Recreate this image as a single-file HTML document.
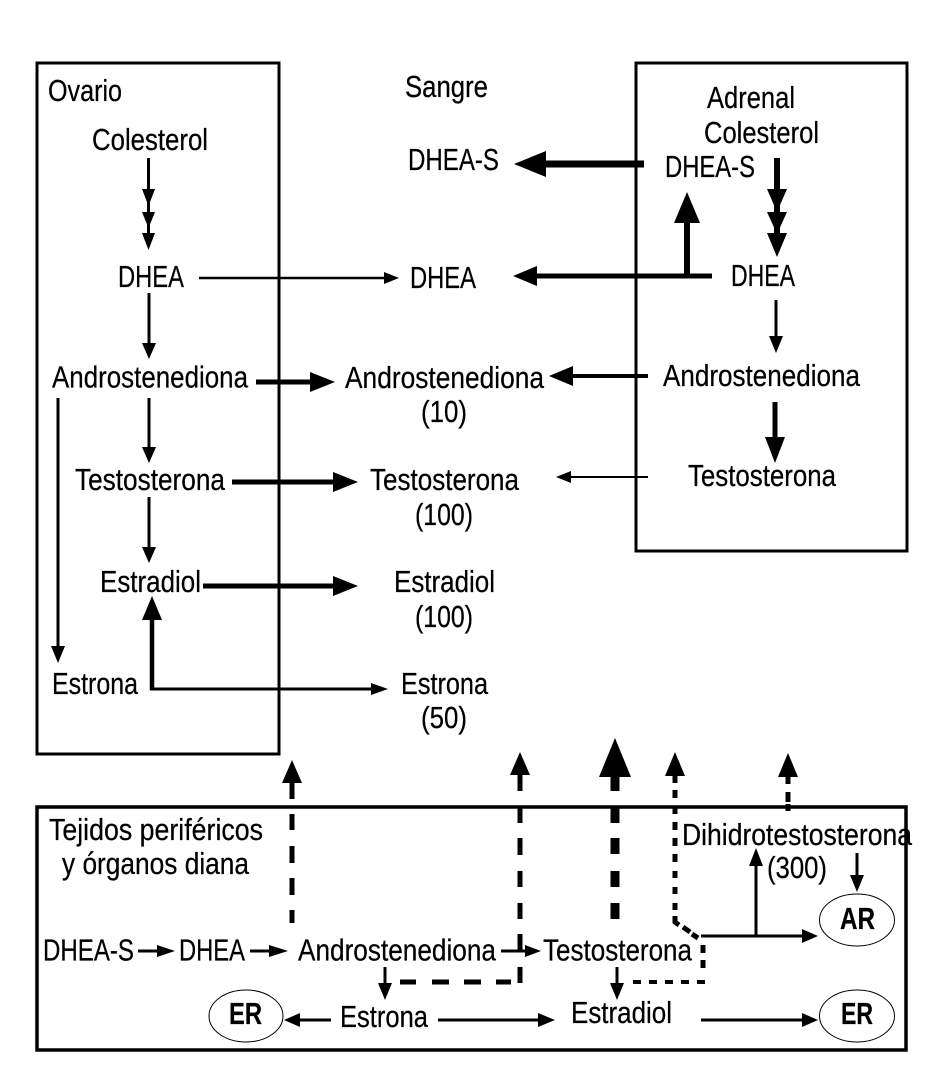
<!DOCTYPE html>
<html lang="es">
<head>
<meta charset="utf-8">
<title>Diagrama</title>
<style>
html,body{margin:0;padding:0;background:#fff}
svg{display:block}
text{font-family:"Liberation Sans",sans-serif;font-size:31px;fill:#000;stroke:#000;stroke-width:.25px}
.b{font-weight:bold}
</style>
</head>
<body>
<svg width="927" height="1083" viewBox="0 0 927 1083" xmlns="http://www.w3.org/2000/svg">
<rect width="927" height="1083" fill="#fff"/>
<g fill="none" stroke="#000" stroke-width="3">
<rect x="37" y="63" width="242" height="691"/>
<rect x="636" y="63" width="271" height="488"/>
<rect x="37" y="807" width="869" height="243" stroke-width="3.5"/>
</g>
<g fill="none" stroke="#000" stroke-width="1">
<ellipse cx="246" cy="1016" rx="37" ry="26"/>
<ellipse cx="857" cy="920" rx="37.5" ry="26"/>
<ellipse cx="857" cy="1016" rx="37.5" ry="26"/>
</g>

<g stroke="#000" fill="none">
<!-- left column -->
<path d="M148.5 158V240M149 293V350M149 398V452M149 497V552" stroke-width="3"/>
<path d="M199 278H388" stroke-width="2.6"/>
<path d="M58 398V650" stroke-width="3"/>
<path d="M256 382H314M232 482H337M203 586H337" stroke-width="5"/>
<path d="M152 690V616" stroke-width="4.5"/>
<path d="M150 689H376" stroke-width="3"/>
<!-- right column -->
<path d="M644 164H540" stroke-width="7"/>
<path d="M712 276H530" stroke-width="5"/>
<path d="M687 276V218" stroke-width="6"/>
<path d="M777 158V245" stroke-width="6"/>
<path d="M776 300V340" stroke-width="3"/>
<path d="M648 376H565" stroke-width="4"/>
<path d="M775 402V440" stroke-width="5"/>
<path d="M648 477H566" stroke-width="2"/>
<!-- long dashed -->
<path d="M292 783V799M292 814V830M292 846V863M292 878V895M292 910V923" stroke-width="5"/>
<path d="M520 775V791M520 808V823M520 838V855M520 871V887M520 903V919M520 934V950M520 967V983" stroke-width="5"/>
<path d="M400 982H416M432 982H449M464 982H481M496 982H511" stroke-width="5"/>
<path d="M615 775V791M615 807V823M615 838V854M615 871V887M615 903V919" stroke-width="9"/>
<path d="M675 776V783M675 790V798M675 807V814M675 822V830M675 838V846M675 854V862M675 871V878M675 887V894M675 903V910M675 916V922L679 925M683 927L690 932M692 934L698 938" stroke-width="5"/>
<path d="M703 945V953M703 960V968" stroke-width="5"/>
<path d="M633 982H641M649 982H657M665 982H673M681 982H689M697 982H705" stroke-width="4"/>
<path d="M788 775V784M788 792V802M788 804V811" stroke-width="5"/>
<!-- bottom solids -->
<path d="M138 951H162M250 951H276" stroke-width="3"/>
<path d="M501 951H530" stroke-width="3"/>
<path d="M385 967V988M617 967V988" stroke-width="3"/>
<path d="M331 1020H295M438 1020H542M701 1020H806M701 936H806" stroke-width="3"/>
<path d="M756 936V862M857 853V880" stroke-width="3"/>
</g>

<g fill="#000" stroke="none">
<!-- left column heads -->
<path d="M142 189H155L148.5 206ZM142 212H155L148.5 228ZM142 233H155L148.5 250Z"/>
<path d="M384 272L399 278L384 284Z"/>
<path d="M142 343H156L149 359Z"/>
<path d="M142 447H156L149 463Z"/>
<path d="M142 547H156L149 563Z"/>
<path d="M51 646H65L58 663Z"/>
<path d="M310 372L335 382L310 392Z"/>
<path d="M333 472L358 482L333 492Z"/>
<path d="M333 576L358 586L333 596Z"/>
<path d="M142 620L152 596L162 620Z"/>
<path d="M371 683L388 689L371 695Z"/>
<!-- right column heads -->
<path d="M546 151L514 164L546 177Z"/>
<path d="M537 266L513 276L537 286Z"/>
<path d="M674 223L687 192L700 223Z"/>
<path d="M767 189H787L777 212ZM767 212H787L777 234ZM767 233H787L777 257Z"/>
<path d="M769 336H783L776 353Z"/>
<path d="M573 366L549 376L573 386Z"/>
<path d="M765 437H785L775 463Z"/>
<path d="M571 471L556 477L571 483Z"/>
<!-- dashed heads -->
<path d="M282 783L292 760L302 783Z"/>
<path d="M510 775L520 752L530 775Z"/>
<path d="M599 777L615 738L631 777Z"/>
<path d="M665 776L675 752L685 776Z"/>
<path d="M778 777L788 753L798 777Z"/>
<!-- bottom heads -->
<path d="M157 945L175 951L157 957Z"/>
<path d="M269 945L288 951L269 957Z"/>
<path d="M525 945L541 951L525 957Z"/>
<path d="M378 983H392L385 1000Z"/>
<path d="M610 983H624L617 1000Z"/>
<path d="M300 1013L284 1020L300 1027Z"/>
<path d="M538 1013L555 1020L538 1027Z"/>
<path d="M802 1013L818 1020L802 1027Z"/>
<path d="M802 929L818 936L802 943Z"/>
<path d="M749 866L756 848L763 866Z"/>
<path d="M850 875H864L857 892Z"/>
</g>

<g>
<text x="48" y="101" textLength="74" lengthAdjust="spacingAndGlyphs">Ovario</text>
<text x="405" y="97" textLength="83" lengthAdjust="spacingAndGlyphs">Sangre</text>
<text x="707" y="108" textLength="88" lengthAdjust="spacingAndGlyphs">Adrenal</text>
<text x="704" y="143" textLength="115" lengthAdjust="spacingAndGlyphs">Colesterol</text>
<text x="665" y="177" textLength="90" lengthAdjust="spacingAndGlyphs">DHEA-S</text>
<text x="731" y="286" textLength="64" lengthAdjust="spacingAndGlyphs">DHEA</text>
<text x="92" y="150" textLength="116" lengthAdjust="spacingAndGlyphs">Colesterol</text>
<text x="118" y="287" textLength="66" lengthAdjust="spacingAndGlyphs">DHEA</text>
<text x="408" y="170" textLength="91" lengthAdjust="spacingAndGlyphs">DHEA-S</text>
<text x="410" y="288" textLength="66" lengthAdjust="spacingAndGlyphs">DHEA</text>
<text x="52" y="387.5" textLength="196" lengthAdjust="spacingAndGlyphs">Androstenediona</text>
<text x="345" y="388" textLength="199" lengthAdjust="spacingAndGlyphs">Androstenediona</text>
<text x="663" y="386" textLength="197" lengthAdjust="spacingAndGlyphs">Androstenediona</text>
<text x="421" y="422" textLength="46" lengthAdjust="spacingAndGlyphs">(10)</text>
<text x="75" y="490" textLength="150" lengthAdjust="spacingAndGlyphs">Testosterona</text>
<text x="370" y="490" textLength="149" lengthAdjust="spacingAndGlyphs">Testosterona</text>
<text x="688" y="486" textLength="148" lengthAdjust="spacingAndGlyphs">Testosterona</text>
<text x="415" y="525" textLength="58" lengthAdjust="spacingAndGlyphs">(100)</text>
<text x="100" y="592" textLength="101" lengthAdjust="spacingAndGlyphs">Estradiol</text>
<text x="394" y="592" textLength="101" lengthAdjust="spacingAndGlyphs">Estradiol</text>
<text x="415" y="627" textLength="58" lengthAdjust="spacingAndGlyphs">(100)</text>
<text x="52" y="694" textLength="86" lengthAdjust="spacingAndGlyphs">Estrona</text>
<text x="401" y="694" textLength="87" lengthAdjust="spacingAndGlyphs">Estrona</text>
<text x="421" y="728" textLength="46" lengthAdjust="spacingAndGlyphs">(50)</text>
<text x="49" y="840" textLength="214" lengthAdjust="spacingAndGlyphs">Tejidos periféricos</text>
<text x="62" y="874" textLength="187" lengthAdjust="spacingAndGlyphs">y órganos diana</text>
<text x="682" y="845" textLength="230" lengthAdjust="spacingAndGlyphs">Dihidrotestosterona</text>
<text x="767" y="878" textLength="60" lengthAdjust="spacingAndGlyphs">(300)</text>
<text x="43" y="960.5" textLength="91" lengthAdjust="spacingAndGlyphs">DHEA-S</text>
<text x="179" y="960.5" textLength="66" lengthAdjust="spacingAndGlyphs">DHEA</text>
<text x="298" y="960.5" textLength="198" lengthAdjust="spacingAndGlyphs">Androstenediona</text>
<text x="543" y="960.5" textLength="149" lengthAdjust="spacingAndGlyphs">Testosterona</text>
<text x="340" y="1027" textLength="88" lengthAdjust="spacingAndGlyphs">Estrona</text>
<text x="571" y="1023" textLength="101" lengthAdjust="spacingAndGlyphs">Estradiol</text>
<text class="b" x="229" y="1024" textLength="33" lengthAdjust="spacingAndGlyphs">ER</text>
<text class="b" x="840" y="929" textLength="35" lengthAdjust="spacingAndGlyphs">AR</text>
<text class="b" x="841" y="1024" textLength="32" lengthAdjust="spacingAndGlyphs">ER</text>
</g>
</svg>
</body>
</html>
